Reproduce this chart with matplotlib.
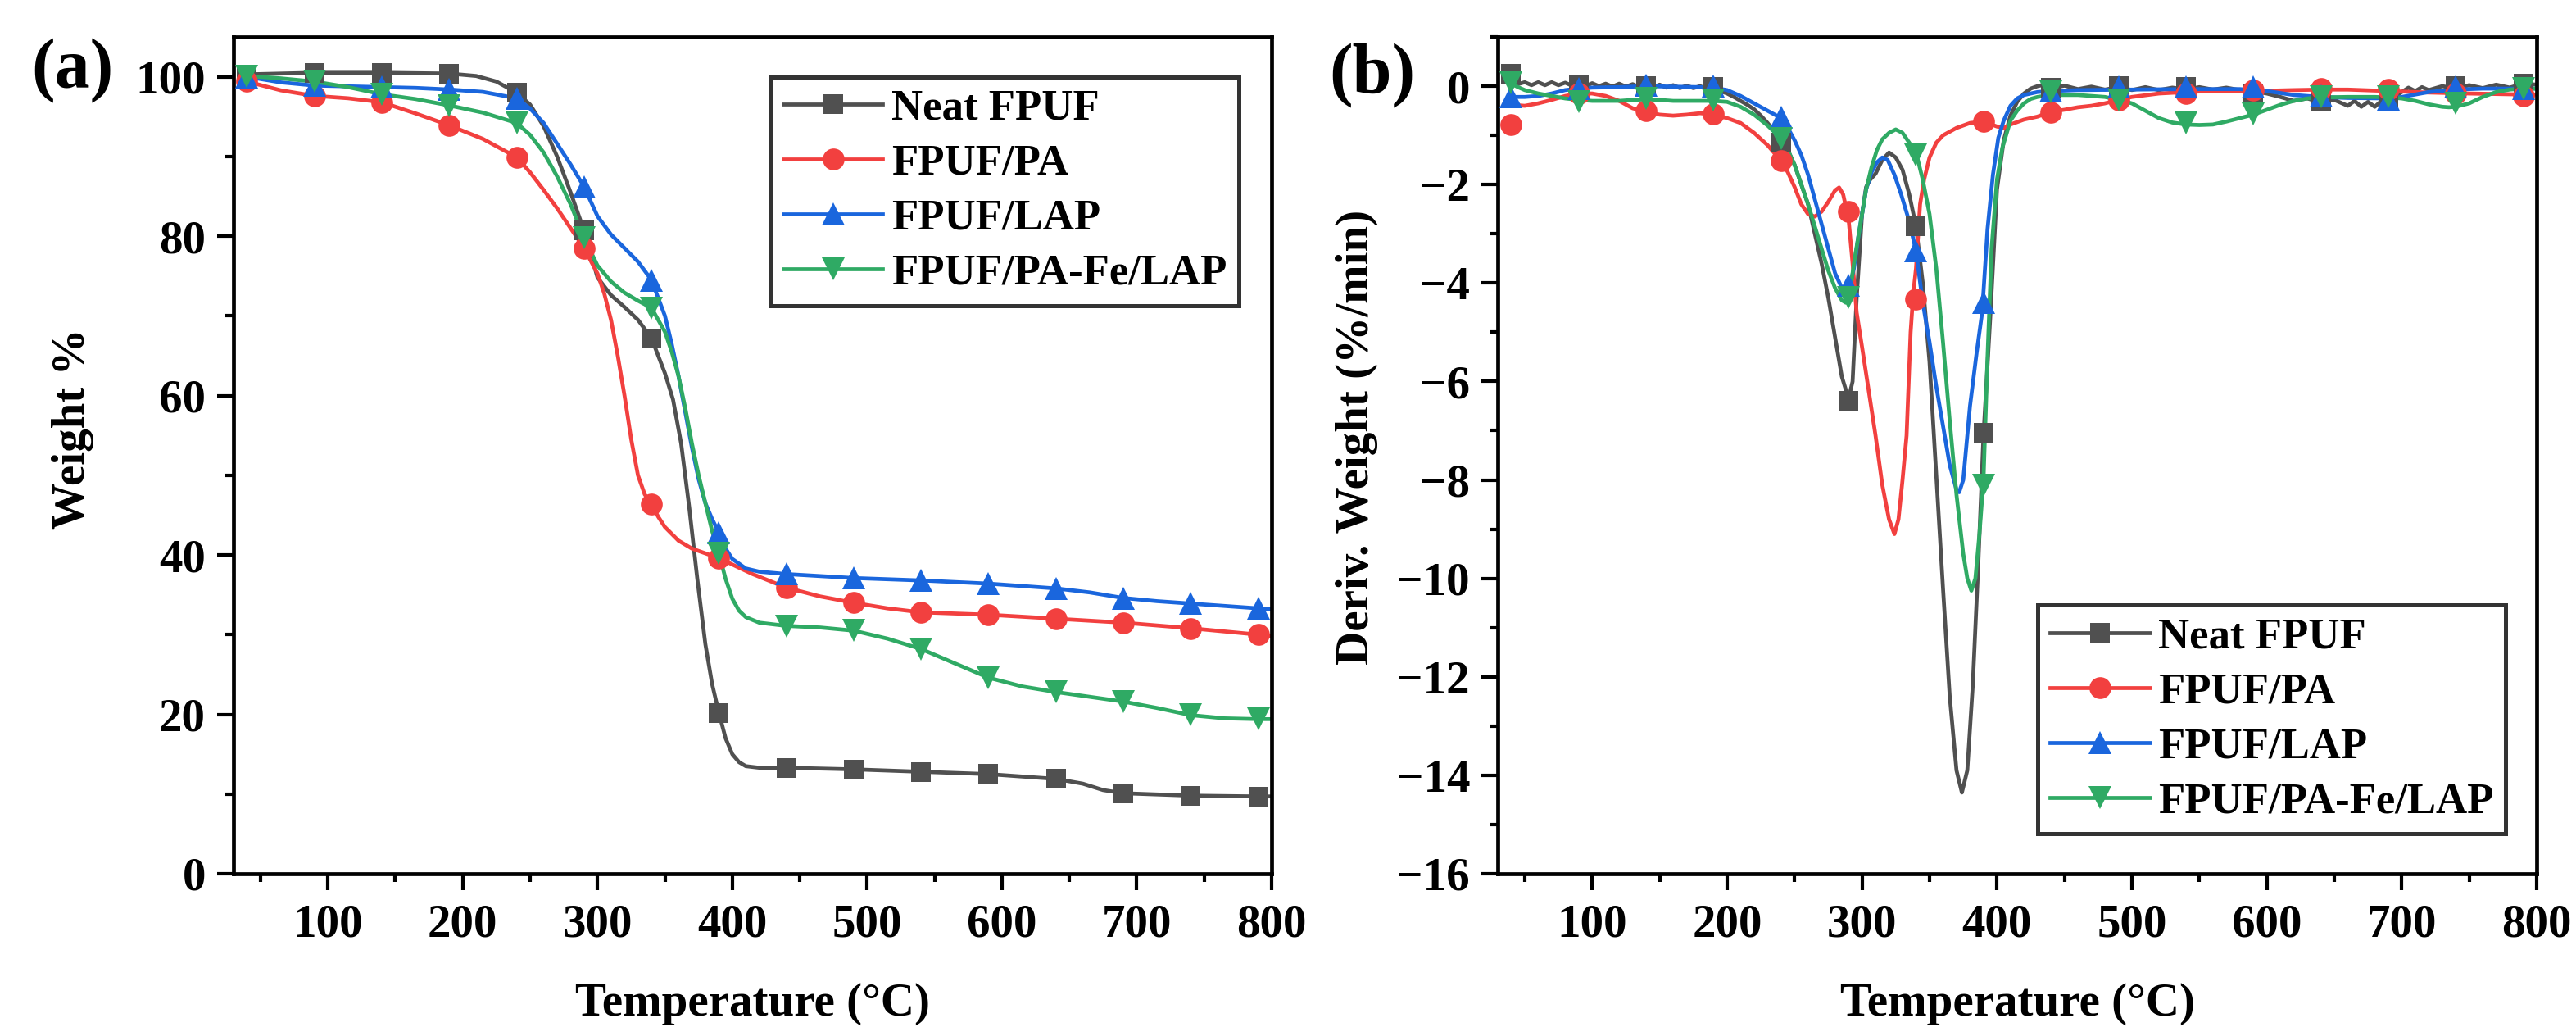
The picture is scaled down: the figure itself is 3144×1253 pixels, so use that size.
import numpy as np
import matplotlib
matplotlib.use('Agg')
import matplotlib.pyplot as plt
from matplotlib.ticker import MultipleLocator

plt.rcParams['font.family'] = ['Liberation Serif', 'DejaVu Serif']
plt.rcParams['font.weight'] = 'bold'
plt.rcParams['axes.labelweight'] = 'bold'

# ---------------- data ----------------
labels = ['Neat FPUF', 'FPUF/PA', 'FPUF/LAP', 'FPUF/PA-Fe/LAP']
colors = ['#505050', '#F2403F', '#1A66DD', '#2FAA64']
markers = ['s', 'o', '^', 'v']
marker_T = [40, 90, 140, 190, 240, 290, 340, 390, 440, 490, 540, 590, 640, 690, 740, 790]

# (a) TGA curves: (temperature, weight %)
tga_neat = [(40, 100.3), (90, 100.5), (140, 100.5), (190, 100.4), (210, 100.1), (225, 99.4), (240, 98.0),
            (250, 96.5), (260, 93.8), (270, 90.0), (280, 85.5), (290, 80.7), (300, 74.8), (310, 72.6),
            (320, 71.1), (330, 69.5), (340, 67.2), (350, 62.8), (356, 59.5), (362, 54.0), (368, 46.0),
            (374, 37.0), (380, 28.8), (385, 23.8), (390, 20.2), (395, 17.0), (400, 15.0), (405, 14.0),
            (410, 13.5), (420, 13.3), (440, 13.3), (490, 13.1), (540, 12.8), (590, 12.5), (640, 11.9),
            (660, 11.3), (675, 10.5), (690, 10.1), (740, 9.8), (790, 9.7), (800, 9.7)]
tga_pa = [(40, 99.4), (65, 98.3), (90, 97.6), (115, 97.3), (140, 96.8), (165, 95.4), (190, 93.9),
          (215, 92.2), (240, 89.9), (250, 88.0), (260, 85.8), (270, 83.5), (280, 81.0), (290, 78.5),
          (300, 75.3), (305, 72.8), (310, 69.5), (315, 65.0), (320, 60.0), (325, 54.5), (330, 50.0),
          (335, 47.6), (340, 46.4), (345, 44.8), (350, 43.5), (360, 41.8), (370, 40.8), (380, 40.2),
          (390, 39.6), (400, 38.8), (415, 37.6), (440, 35.9), (465, 34.8), (490, 34.0), (515, 33.3),
          (540, 32.8), (590, 32.5), (640, 32.0), (690, 31.5), (740, 30.8), (790, 30.0), (800, 29.8)]
tga_lap = [(40, 100.0), (65, 99.3), (90, 98.9), (115, 98.8), (140, 98.7), (165, 98.6), (190, 98.4),
           (215, 98.1), (240, 97.3), (250, 96.0), (260, 94.2), (270, 91.6), (280, 89.0), (290, 86.2),
           (300, 82.5), (310, 80.2), (320, 78.5), (330, 76.8), (340, 74.5), (350, 70.0), (355, 66.5),
           (360, 62.5), (365, 58.0), (370, 53.5), (375, 49.5), (380, 46.5), (385, 44.5), (390, 42.8),
           (395, 40.8), (400, 39.5), (410, 38.3), (420, 37.9), (440, 37.6), (490, 37.1), (540, 36.8),
           (590, 36.4), (640, 35.8), (665, 35.3), (690, 34.6), (715, 34.2), (740, 33.9), (765, 33.6),
           (790, 33.3), (800, 33.2)]
tga_fe = [(40, 100.1), (65, 99.8), (90, 99.4), (115, 98.7), (140, 97.8), (165, 97.2), (190, 96.4),
          (215, 95.5), (240, 94.2), (250, 92.7), (260, 90.5), (270, 87.5), (280, 84.0), (290, 79.8),
          (300, 76.3), (310, 74.3), (320, 72.9), (330, 71.9), (340, 71.0), (350, 68.0), (355, 65.5),
          (360, 62.5), (365, 58.5), (370, 54.0), (375, 50.0), (380, 46.5), (385, 43.0), (390, 40.2),
          (395, 37.0), (400, 34.5), (405, 33.0), (410, 32.2), (420, 31.5), (440, 31.1), (465, 30.9),
          (490, 30.5), (515, 29.5), (540, 28.2), (565, 26.4), (590, 24.6), (615, 23.5), (640, 22.8),
          (665, 22.2), (690, 21.6), (715, 20.8), (740, 19.9), (765, 19.5), (790, 19.4), (800, 19.4)]

# (a) marker values at marker_T
tga_mk_neat = [100.3, 100.5, 100.5, 100.4, 98.0, 80.7, 67.2, 20.2, 13.3, 13.1, 12.8, 12.5, 11.9, 10.1, 9.8, 9.7]
tga_mk_pa = [99.4, 97.6, 96.8, 93.9, 89.9, 78.5, 46.4, 39.6, 35.9, 34.0, 32.8, 32.5, 32.0, 31.5, 30.8, 30.0]
tga_mk_lap = [100.0, 98.9, 98.7, 98.4, 97.3, 86.2, 74.5, 42.8, 37.6, 37.1, 36.8, 36.4, 35.8, 34.6, 33.9, 33.3]
tga_mk_fe = [100.1, 99.4, 97.8, 96.4, 94.2, 79.8, 71.0, 40.2, 31.1, 30.5, 28.2, 24.6, 22.8, 21.6, 19.9, 19.4]

# (b) DTG curves: (temperature, deriv. weight %/min)
dtg_neat = [(40, 0.10), (45, 0.04), (50, 0.08), (55, 0.02), (60, 0.08), (65, 0.02), (70, 0.08), (75, 0.02),
            (80, 0.07), (85, 0.01), (90, 0.06), (95, 0.0), (100, 0.06), (105, 0.0), (110, 0.05), (115, -0.01),
            (120, 0.05), (125, -0.01), (130, 0.04), (135, -0.02), (140, 0.03), (145, -0.02), (150, 0.03),
            (155, -0.03), (160, 0.02), (165, -0.04), (170, 0.01), (175, -0.04), (180, 0.0), (185, -0.06),
            (190, -0.05), (195, -0.1), (200, -0.15), (205, -0.22), (210, -0.3), (215, -0.38), (220, -0.47),
            (225, -0.6), (230, -0.75), (235, -0.92), (240, -1.1), (245, -1.3), (250, -1.6), (255, -2.0),
            (260, -2.4), (265, -3.0), (270, -3.6), (275, -4.3), (280, -5.1), (285, -5.9), (290, -6.35),
            (293, -6.0), (296, -4.3), (300, -2.6), (303, -2.05), (306, -1.9), (310, -1.78), (315, -1.5),
            (320, -1.35), (325, -1.45), (330, -1.7), (335, -2.2), (340, -2.85), (345, -4.0), (350, -5.6),
            (355, -7.9), (360, -10.2), (365, -12.4), (370, -13.9), (374, -14.35), (378, -13.9), (382, -12.2),
            (386, -9.8), (390, -7.1), (395, -4.7), (400, -2.1), (405, -1.1), (410, -0.6), (415, -0.32),
            (420, -0.15), (425, -0.05), (430, 0.0), (435, 0.03), (440, -0.04), (450, 0.01), (460, -0.06),
            (470, -0.01), (480, -0.07), (490, -0.02), (500, -0.08), (510, -0.02), (520, -0.08), (530, -0.03),
            (540, -0.07), (550, -0.02), (560, -0.07), (570, -0.03), (580, -0.08), (590, -0.1), (600, -0.15),
            (610, -0.22), (620, -0.3), (630, -0.25), (640, -0.33), (650, -0.28), (660, -0.4), (665, -0.3),
            (670, -0.42), (675, -0.32), (680, -0.42), (685, -0.3), (690, -0.3), (700, -0.12), (705, -0.03),
            (710, -0.1), (715, -0.02), (720, -0.08), (730, 0.0), (740, -0.05), (750, 0.02), (760, -0.04),
            (770, 0.03), (780, -0.03), (790, 0.05), (800, 0.03)]
dtg_pa = [(40, -0.38), (50, -0.4), (60, -0.35), (70, -0.28), (80, -0.2), (90, -0.15), (100, -0.15),
          (110, -0.2), (120, -0.3), (130, -0.45), (140, -0.52), (150, -0.58), (160, -0.6), (170, -0.58),
          (180, -0.55), (190, -0.58), (200, -0.65), (210, -0.75), (220, -0.95), (230, -1.2), (240, -1.52),
          (245, -1.75), (250, -2.05), (255, -2.4), (260, -2.6), (265, -2.65), (270, -2.55), (275, -2.35),
          (280, -2.12), (283, -2.06), (286, -2.2), (290, -2.7), (293, -3.6), (296, -4.6), (300, -5.3),
          (305, -6.2), (310, -7.1), (315, -8.1), (320, -8.8), (324, -9.1), (327, -8.8), (330, -8.0),
          (333, -7.1), (336, -5.0), (338, -4.2), (340, -3.7), (343, -2.4), (346, -1.9), (350, -1.45),
          (355, -1.15), (360, -1.0), (370, -0.85), (380, -0.75), (390, -0.72), (400, -0.82), (405, -0.85),
          (410, -0.78), (420, -0.68), (430, -0.62), (440, -0.52), (450, -0.48), (460, -0.43), (470, -0.4),
          (480, -0.35), (490, -0.28), (500, -0.22), (520, -0.15), (540, -0.12), (560, -0.1), (590, -0.1),
          (620, -0.08), (640, -0.07), (660, -0.07), (690, -0.1), (720, -0.13), (750, -0.15), (790, -0.17),
          (800, -0.17)]
dtg_lap = [(40, -0.22), (50, -0.22), (60, -0.2), (70, -0.15), (80, -0.08), (90, -0.05), (100, -0.03),
           (120, -0.02), (140, 0.0), (160, -0.01), (180, -0.02), (190, -0.03), (200, -0.08), (210, -0.2),
           (220, -0.35), (230, -0.5), (240, -0.65), (245, -0.85), (250, -1.1), (255, -1.4), (260, -1.8),
           (265, -2.3), (270, -2.8), (275, -3.3), (280, -3.8), (285, -4.1), (288, -4.15), (291, -4.05),
           (294, -3.7), (297, -3.1), (300, -2.6), (303, -2.1), (307, -1.75), (311, -1.55), (315, -1.45),
           (319, -1.5), (324, -1.8), (329, -2.2), (335, -2.75), (340, -3.35), (345, -4.4), (350, -5.2),
           (355, -6.1), (360, -6.9), (365, -7.7), (370, -8.2), (372, -8.25), (375, -8.0), (380, -6.5),
           (385, -5.4), (389, -4.6), (393, -2.9), (397, -1.8), (401, -1.05), (405, -0.7), (410, -0.4),
           (415, -0.25), (420, -0.18), (430, -0.12), (440, -0.1), (460, -0.08), (500, -0.07), (540, -0.06),
           (580, -0.06), (600, -0.1), (620, -0.18), (640, -0.22), (660, -0.24), (690, -0.25), (700, -0.22),
           (720, -0.12), (740, -0.07), (760, -0.05), (790, -0.05), (800, -0.05)]
dtg_fe = [(40, 0.05), (45, -0.02), (50, -0.08), (60, -0.15), (70, -0.2), (80, -0.25), (90, -0.28),
          (100, -0.3), (110, -0.3), (120, -0.3), (130, -0.28), (140, -0.27), (150, -0.28), (160, -0.3),
          (170, -0.3), (180, -0.3), (190, -0.3), (200, -0.32), (210, -0.42), (220, -0.58), (230, -0.8),
          (240, -1.06), (245, -1.3), (250, -1.6), (255, -2.0), (260, -2.4), (265, -2.85), (270, -3.3),
          (275, -3.75), (280, -4.1), (285, -4.35), (288, -4.4), (291, -4.2), (294, -3.6), (297, -3.1),
          (300, -2.6), (303, -2.1), (307, -1.65), (311, -1.3), (315, -1.08), (320, -0.95), (325, -0.88),
          (330, -0.95), (335, -1.15), (340, -1.35), (345, -1.9), (350, -2.6), (355, -3.7), (360, -5.2),
          (365, -6.8), (370, -8.3), (375, -9.5), (378, -10.0), (381, -10.25), (384, -10.0), (387, -9.1),
          (390, -8.0), (393, -5.5), (396, -3.3), (400, -1.9), (404, -1.25), (410, -0.7), (415, -0.5),
          (420, -0.35), (425, -0.26), (430, -0.22), (440, -0.18), (460, -0.18), (480, -0.22), (490, -0.28),
          (500, -0.35), (510, -0.5), (520, -0.65), (530, -0.74), (540, -0.78), (550, -0.79), (560, -0.78),
          (570, -0.72), (580, -0.65), (590, -0.58), (600, -0.48), (610, -0.38), (620, -0.3), (630, -0.25),
          (640, -0.23), (660, -0.22), (680, -0.22), (690, -0.23), (700, -0.25), (710, -0.3), (720, -0.37),
          (730, -0.42), (735, -0.43), (740, -0.42), (750, -0.35), (760, -0.22), (770, -0.12), (780, -0.07),
          (790, -0.05), (800, -0.05)]

# (b) marker values at marker_T
dtg_mk_neat = [0.25, 0.02, 0.0, -0.02, -1.15, -6.4, -2.85, -7.05, -0.03, 0.0, -0.02, -0.15, -0.31, -0.27, 0.0, 0.05]
dtg_mk_pa = [-0.78, -0.15, -0.5, -0.57, -1.52, -2.55, -4.32, -0.72, -0.53, -0.28, -0.15, -0.08, -0.05, -0.07, -0.15, -0.2]
dtg_mk_lap = [-0.22, -0.05, 0.02, 0.0, -0.63, -4.05, -3.35, -4.4, -0.1, -0.02, -0.02, -0.02, -0.2, -0.27, -0.02, -0.05]
dtg_mk_fe = [0.07, -0.31, -0.25, -0.28, -1.07, -4.3, -1.4, -8.1, -0.12, -0.28, -0.75, -0.57, -0.22, -0.22, -0.35, -0.05]

tga_lines = [tga_neat, tga_pa, tga_lap, tga_fe]
tga_marks = [tga_mk_neat, tga_mk_pa, tga_mk_lap, tga_mk_fe]
dtg_lines = [dtg_neat, dtg_pa, dtg_lap, dtg_fe]
dtg_marks = [dtg_mk_neat, dtg_mk_pa, dtg_mk_lap, dtg_mk_fe]

# ---------------- figure ----------------
W, H = 3144, 1253
DPI = 200
fig = plt.figure(figsize=(W / DPI, H / DPI), dpi=DPI)

ax_a = fig.add_axes([285 / W, 1 - 1066 / H, (1552 - 285) / W, (1066 - 45) / H])
ax_b = fig.add_axes([1828 / W, 1 - 1066 / H, (3096 - 1828) / W, (1066 - 45) / H])

TICK_FS = 20.5
LABEL_FS = 20.5
LEG_FS = 19
MS = {'s': 8.6, 'o': 9.6, '^': 9.8, 'v': 9.8}


def draw(ax, lines, marks):
    handles = []
    for i in range(4):
        T, V = zip(*lines[i])
        ln, = ax.plot(T, V, color=colors[i], lw=1.7, zorder=2 + i * 0.1,
                      solid_joinstyle='round')
        mk, = ax.plot(marker_T, marks[i], linestyle='none', marker=markers[i],
                      markersize=MS[markers[i]], color=colors[i], markeredgewidth=0,
                      zorder=3 + i * 0.1)
        handles.append((ln, mk))
    return handles


h_a = draw(ax_a, tga_lines, tga_marks)
h_b = draw(ax_b, dtg_lines, dtg_marks)

for ax in (ax_a, ax_b):
    ax.set_xlim(30, 800)
    ax.xaxis.set_major_locator(MultipleLocator(100))
    ax.xaxis.set_minor_locator(MultipleLocator(50))
    ax.tick_params(which='major', direction='out', length=7.2, width=1.5,
                   labelsize=TICK_FS, top=False, right=False)
    ax.tick_params(which='minor', direction='out', length=3.6, width=1.5,
                   top=False, right=False)
    ax.tick_params(axis='x', which='major', pad=6)
    ax.tick_params(axis='y', which='major', pad=5)
    for s in ax.spines.values():
        s.set_linewidth(1.7)
    ax.set_xlabel('Temperature (°C)', fontsize=LABEL_FS, fontweight='bold', labelpad=16)

ax_a.set_ylim(0, 105)
ax_a.yaxis.set_major_locator(MultipleLocator(20))
ax_a.yaxis.set_minor_locator(MultipleLocator(10))
ax_a.set_ylabel('Weight %', fontsize=LABEL_FS, fontweight='bold', labelpad=18)
ax_a.yaxis.label.set_y(0.532)

ax_b.set_ylim(-16, 1)
ax_b.yaxis.set_major_locator(MultipleLocator(2))
ax_b.yaxis.set_minor_locator(MultipleLocator(1))
ax_b.set_ylabel('Deriv. Weight (%/min)', fontsize=LABEL_FS, fontweight='bold', labelpad=8)
ax_b.yaxis.label.set_y(0.522)

leg_kw = dict(loc='upper left', borderaxespad=0, frameon=True, fancybox=False,
              edgecolor='black', handlelength=2.3, handletextpad=0.2, labelspacing=0.36,
              borderpad=0.28, prop={'weight': 'bold', 'size': LEG_FS})
leg_a = ax_a.legend(h_a, labels, bbox_to_anchor=(0.518, 0.952), **leg_kw)
leg_b = ax_b.legend(h_b, labels, bbox_to_anchor=(0.520, 0.321), **leg_kw)
for lg in (leg_a, leg_b):
    lg.get_frame().set_linewidth(1.8)

fig.text(88 / W, 1 - 86 / H, '(a)', fontsize=31, fontweight='bold', ha='center', va='center')
fig.text(1675 / W, 1 - 92 / H, '(b)', fontsize=31, fontweight='bold', ha='center', va='center')

fig.savefig('out.png', dpi=DPI)
